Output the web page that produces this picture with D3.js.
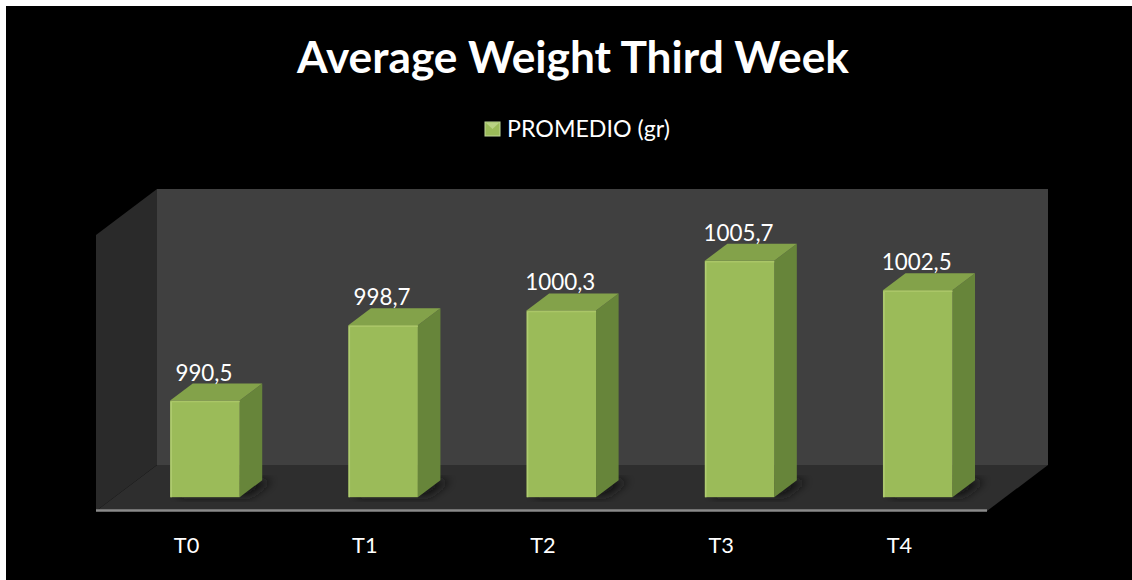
<!DOCTYPE html>
<html>
<head>
<meta charset="utf-8">
<script src="https://cdn.jsdelivr.net/npm/d3@7/dist/d3.min.js"></script>
<style>
  html, body { margin: 0; padding: 0; background: #ffffff; }
  svg { display: block; }
  text { font-family: Lato, "Open Sans", sans-serif; }
</style>
</head>
<body>
<svg id="chart" width="1132" height="580"></svg>
<script>
// Average weight per treatment, third week (grams)
const categories = ["T0", "T1", "T2", "T3", "T4"];
const values = [990.5, 998.7, 1000.3, 1005.7, 1002.5];
const valueLabels = ["990,5", "998,7", "1000,3", "1005,7", "1002,5"];
const seriesName = "PROMEDIO (gr)";
const titleText = "Average Weight Third Week";
const yDomain = [980, 1010];

const svg = d3.select("#chart");
const W = 1132, H = 580;

// outer frame and black chart area
svg.append("rect").attr("width", W).attr("height", H).attr("fill", "#ffffff");
svg.append("rect").attr("x", 6).attr("y", 6).attr("width", W - 6).attr("height", H - 6).attr("fill", "#000000");

const defs = svg.append("defs");
const blur = defs.append("filter").attr("id", "shadow").attr("x", "-30%").attr("y", "-30%").attr("width", "160%").attr("height", "160%");
blur.append("feGaussianBlur").attr("stdDeviation", 5);

// front-plane geometry, depth is projected as an oblique offset
const plotLeft = 96, plotRight = 987, floorY = 511, topY = 235;
const DX = 61, DY = -46;
const proj = (px, py, z) => [px + z * DX, py + z * DY];

const x = d3.scaleBand().domain(categories).range([plotLeft + 1.5, plotRight + 1.5])
  .paddingInner(0.61).paddingOuter(0.305);
const y = d3.scaleLinear().domain(yDomain).range([floorY, topY]);

const poly = pts => pts.map(p => p.join(",")).join(" ");
const walls = svg.append("g");

// back wall
walls.append("polygon").attr("points", poly([
  proj(plotLeft, y(yDomain[1]), 1), proj(plotRight, y(yDomain[1]), 1),
  proj(plotRight, y(yDomain[0]), 1), proj(plotLeft, y(yDomain[0]), 1)
])).attr("fill", "#404040");
// side wall
walls.append("polygon").attr("points", poly([
  proj(plotLeft, y(yDomain[0]), 0), proj(plotLeft, y(yDomain[1]), 0),
  proj(plotLeft, y(yDomain[1]), 1), proj(plotLeft, y(yDomain[0]), 1)
])).attr("fill", "#2a2a2a");
// floor
walls.append("polygon").attr("points", poly([
  proj(plotLeft, y(yDomain[0]), 0), proj(plotRight, y(yDomain[0]), 0),
  proj(plotRight, y(yDomain[0]), 1), proj(plotLeft, y(yDomain[0]), 1)
])).attr("fill", "#2e2e2e");
// floor front edge
walls.append("line")
  .attr("x1", plotLeft).attr("x2", plotRight)
  .attr("y1", y(yDomain[0]) - 0.5).attr("y2", y(yDomain[0]) - 0.5)
  .attr("stroke", "#8a8a8a").attr("stroke-width", 2.5);

const zf = 0.30, zb = 0.67;
const bw = x.bandwidth();
const bars = svg.append("g");

// text size fitted so a reference string spans a given width
function fitSize(str, base, target, weight) {
  const t = svg.append("text").attr("font-size", base).attr("font-weight", weight || "normal").text(str);
  const w = t.node().getComputedTextLength();
  t.remove();
  return base * target / w;
}
const valueSize = fitSize(valueLabels[0], 22, 57);
const catSize = fitSize("T0", 22, 25.5);

categories.forEach((c, i) => {
  const v = values[i];
  const x0 = x(c), x1 = x0 + bw;
  const yt = y(v), yb = y(yDomain[0]);
  const g = bars.append("g");
  // soft shadow on the floor
  g.append("polygon").attr("points", poly([
    proj(x0 + 4, yb, zf + 0.02), proj(x1 + 10, yb, zf + 0.02),
    proj(x1 + 10, yb, zb), proj(x0 + 4, yb, zb)
  ])).attr("fill", "#151515").attr("filter", "url(#shadow)");
  // side face
  g.append("polygon").attr("points", poly([
    proj(x1, yt, zf), proj(x1, yt, zb), proj(x1, yb, zb), proj(x1, yb, zf)
  ])).attr("fill", "#67853a");
  // top face
  g.append("polygon").attr("points", poly([
    proj(x0, yt, zf), proj(x1, yt, zf), proj(x1, yt, zb), proj(x0, yt, zb)
  ])).attr("fill", "#83a24a");
  // front face
  const f0 = proj(x0, yt, zf), f1 = proj(x1, yb, zf);
  g.append("rect").attr("x", f0[0]).attr("y", f0[1])
    .attr("width", f1[0] - f0[0]).attr("height", f1[1] - f0[1])
    .attr("fill", "#9bbb59");
  // bevel highlights
  g.append("line").attr("x1", f0[0] + 1).attr("x2", f0[0] + 1)
    .attr("y1", f0[1] + 1).attr("y2", f1[1])
    .attr("stroke", "#b0cc72").attr("stroke-width", 1.5);
  g.append("line").attr("x1", f0[0] + 1).attr("x2", f1[0])
    .attr("y1", f0[1] + 1).attr("y2", f0[1] + 1)
    .attr("stroke", "#aac667").attr("stroke-width", 1.5);
  // value label above the bar
  const lbl = proj(x0 + bw / 2, yt, zb);
  svg.append("text")
    .attr("x", f0[0] + bw / 2 - 1).attr("y", lbl[1] - 3)
    .attr("text-anchor", "middle")
    .attr("fill", "#ffffff").attr("font-size", valueSize)
    .text(valueLabels[i]);
});

// category axis labels
svg.append("g").selectAll("text").data(categories).join("text")
  .attr("x", d => x(d) + bw / 2)
  .attr("y", 553)
  .attr("text-anchor", "middle")
  .attr("fill", "#ffffff").attr("font-size", catSize)
  .text(d => d);

// title
const title = svg.append("text")
  .attr("x", 573).attr("y", 73)
  .attr("text-anchor", "middle")
  .attr("fill", "#ffffff").attr("font-weight", "bold")
  .attr("font-size", fitSize(titleText, 40, 552, "bold"))
  .text(titleText);

// legend
const legend = svg.append("g");
legend.append("rect").attr("x", 485).attr("y", 122).attr("width", 15).attr("height", 14)
  .attr("fill", "#9bbb59").attr("stroke", "#c2d99a").attr("stroke-width", 1);
legend.append("polygon").attr("points", "486,123 499,123 492.5,129").attr("fill", "#b9d283");
legend.append("text")
  .attr("x", 507).attr("y", 137)
  .attr("fill", "#ffffff").attr("font-size", fitSize(seriesName, 22, 163))
  .text(seriesName);
</script>
</body>
</html>
